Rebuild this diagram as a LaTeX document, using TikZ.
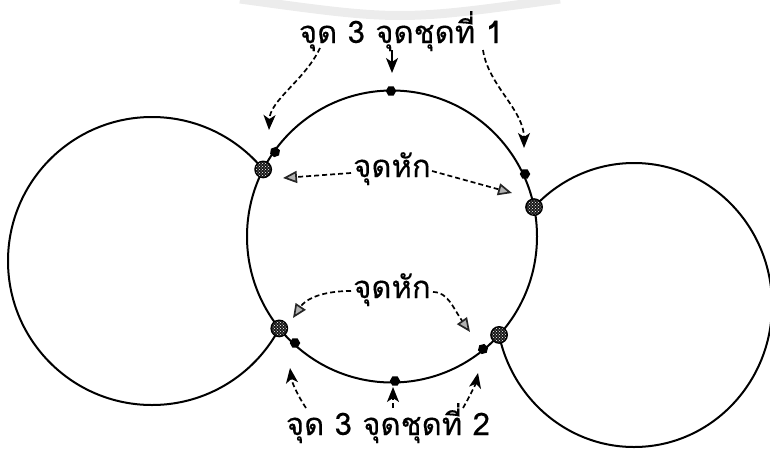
\documentclass[tikz,border=0pt]{standalone}
\usepackage{fontspec}
\newfontfamily\thaifont[Script=Thai,FakeBold=0.3]{Loma}
\usetikzlibrary{arrows.meta,shapes.geometric,patterns,intersections}
\begin{document}
\begin{tikzpicture}[x=1pt,y=-1pt,
  ring/.style={line width=2pt},
  lbl/.style={font=\thaifont\fontsize{31}{33}\selectfont, inner sep=0pt, anchor=base},
  blackdot/.style={regular polygon, regular polygon sides=6, fill=black, inner sep=0pt, minimum size=10.5pt},
  brkpt/.style={circle, draw=black, line width=1.3pt, minimum size=16.5pt, inner sep=0pt,
     preaction={fill=black!90}, pattern=crosshatch dots, pattern color=white},
  dsh/.style={line width=1.7pt, dash pattern=on 5pt off 3pt},
  blkarrow/.style={dsh, -{Stealth[length=15pt,width=12pt,inset=4pt]}},
  solidarrow/.style={line width=1.7pt, -{Stealth[length=15pt,width=12pt,inset=4pt]}},
  brkarrow/.style={dsh, -{Triangle[length=14pt,width=12pt,fill=gray!60,color=black!85]}}
]
\useasboundingbox (0,0) rectangle (770,450);
% faint watermark arc
\draw[gray!15, line width=9pt] (240,-1) .. controls (400,21) .. (560,-1);
% outer circles
\draw[ring, name path=L] (152,261) ellipse [x radius=144pt, y radius=144pt];
\draw[ring, name path=R] (634,305) ellipse [x radius=138pt, y radius=142pt];
% centre circle
\fill[white] (392,236.5) ellipse [x radius=145pt, y radius=146pt];
\draw[ring, name path=C] (392,236.5) ellipse [x radius=145pt, y radius=146pt];
% small black points
\node[blackdot] (p1) at (391,91) {};
\node[blackdot, rotate=20] (p2) at (275,152) {};
\node[blackdot] (p3) at (525,174) {};
\node[blackdot] (p4) at (295,343) {};
\node[blackdot, rotate=15] (p5) at (483,349) {};
\node[blackdot] (p6) at (395,381) {};
% break points at intersections
\path[name intersections={of=C and L, by={bl1,bl2}}];
\path[name intersections={of=C and R, by={br1,br2}}];
\node[brkpt] (b1) at (bl1) {};
\node[brkpt] (b2) at (bl2) {};
\node[brkpt] (b3) at (br1) {};
\node[brkpt] (b4) at (br2) {};
% labels
\node[lbl] (top) at (401,43) {จุด 3 จุดชุดที่ 1};
\node[lbl] (bot) at (388,435) {จุด 3 จุดชุดที่ 2};
\node[lbl] (k1) at (392,177) {จุดหัก};
\node[lbl] (k2) at (392,298) {จุดหัก};
% arrow coordinates
\coordinate (t1s) at (320,48);   \coordinate (t1e) at (269,130);
\coordinate (t2s) at (392,50);   \coordinate (t2e) at (392,73);
\coordinate (t3s) at (483,50);   \coordinate (t3e) at (524,148);
\coordinate (u1s) at (351,173);  \coordinate (u1e) at (283,178);
\coordinate (u2s) at (432,171);  \coordinate (u2e) at (512,193);
\coordinate (l1s) at (351,291);  \coordinate (l1e) at (293,318);
\coordinate (l2s) at (433,292);  \coordinate (l2e) at (470,332);
\coordinate (s1s) at (306,408);  \coordinate (s1e) at (290,368);
\coordinate (s2s) at (393,408);  \coordinate (s2e) at (393,387);
\coordinate (s3s) at (463,408);  \coordinate (s3e) at (478,373);
% top arrows
\draw[blkarrow] (t1s) .. controls (305,80) and (270,100) .. (t1e);
\draw[solidarrow] (t2s) -- (t2e);
\draw[blkarrow] (t3s) .. controls (488,85) and (524,110) .. (t3e);
% break arrows
\draw[brkarrow] (u1s) -- (u1e);
\draw[brkarrow] (u2s) -- (u2e);
\draw[brkarrow] (l1s) .. controls (320,291) and (305,300) .. (l1e);
\draw[brkarrow] (l2s) .. controls (448,292) and (453,308) .. (l2e);
% bottom arrows
\draw[blkarrow] (s1s) .. controls (298,396) and (292,383) .. (s1e);
\draw[blkarrow] (s2s) -- (s2e);
\draw[blkarrow] (s3s) .. controls (470,396) and (476,383) .. (s3e);
\end{tikzpicture}
\end{document}
